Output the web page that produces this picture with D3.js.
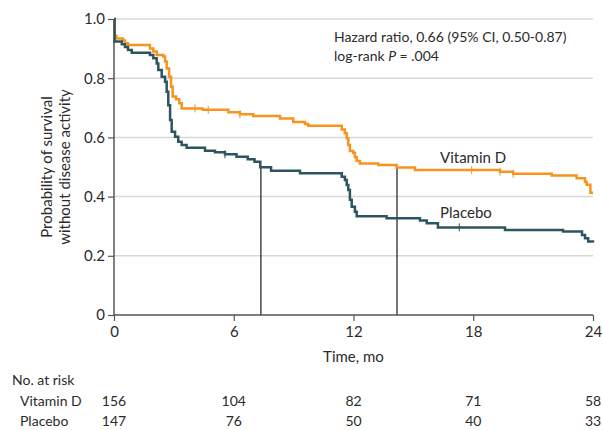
<!DOCTYPE html>
<html><head><meta charset="utf-8">
<script src="https://cdn.jsdelivr.net/npm/d3@7"></script>
<style>
body{margin:0;background:#fff;}
svg text{font-family:Lato,"Open Sans",sans-serif;fill:#2b2b2b;}
</style></head>
<body><svg id="c" width="603" height="430"></svg>
<script>
const xTicks = [0, 6, 12, 18, 24];
const yTicks = [0, 0.2, 0.4, 0.6, 0.8, 1.0];
const yTickLabels = ["0", "0.2", "0.4", "0.6", "0.8", "1.0"];
const groups = ["Vitamin D", "Placebo"];
const vitDTimes = [0,0.03,0.12,0.45,0.55,0.7,1.8,1.97,2.14,2.47,2.56,2.64,2.76,2.86,2.94,3.11,3.27,3.39,4.44,5.73,6.31,6.98,8.32,8.98,9.57,9.73,11.41,11.57,11.66,11.74,11.82,11.99,12.07,12.16,12.32,13.24,14.16,15.08,19.34,20.0,21.93,23.18,23.6,23.68,23.87,24];
const vitDSurv  = [1.0,0.943,0.934,0.927,0.918,0.912,0.9,0.89,0.878,0.873,0.856,0.833,0.805,0.771,0.738,0.729,0.715,0.698,0.693,0.685,0.678,0.672,0.664,0.652,0.645,0.639,0.627,0.614,0.597,0.574,0.554,0.548,0.533,0.52,0.512,0.507,0.498,0.49,0.484,0.477,0.471,0.462,0.45,0.44,0.413,0.413];
const placeboTimes = [0,0.03,0.39,0.55,0.7,0.89,1.8,1.97,2.14,2.22,2.39,2.56,2.64,2.72,2.81,2.89,3.06,3.22,3.39,3.64,4.56,5.06,5.56,6.14,6.7,7.04,7.33,7.87,9.32,11.41,11.57,11.66,11.74,11.82,11.91,12.07,12.16,13.66,15.33,15.67,16.23,19.59,22.5,23.45,23.6,23.76,24];
const placeboSurv  = [1.0,0.924,0.915,0.905,0.895,0.886,0.878,0.867,0.85,0.828,0.805,0.788,0.754,0.709,0.659,0.619,0.602,0.585,0.574,0.565,0.555,0.55,0.543,0.535,0.526,0.518,0.499,0.487,0.479,0.467,0.456,0.439,0.422,0.389,0.366,0.349,0.334,0.327,0.319,0.31,0.296,0.287,0.282,0.27,0.259,0.248,0.245];
const vitDCensor = [4.06, 4.72, 6.31, 17.92, 19.34, 20.0];
const placeboCensor = [5.56, 17.3];
const medianTimes = [7.36, 14.18];
const riskVitD = [156, 104, 82, 71, 58];
const riskPlacebo = [147, 76, 50, 40, 33];
const colors = {"Vitamin D": "#f7941d", "Placebo": "#2d5560"};

const svg = d3.select("#c");
const x = d3.scaleLinear().domain([0, 24]).range([114, 593]);
const y = d3.scaleLinear().domain([0, 1]).range([315, 19]);

// gridlines
svg.append("g").selectAll("line").data(yTicks.filter(d => d > 0)).join("line")
  .attr("x1", x(0)).attr("x2", x(24)).attr("y1", d => y(d)).attr("y2", d => y(d))
  .attr("stroke", "#d8d8d8").attr("stroke-width", 1.5);

// median lines
svg.append("g").selectAll("line").data(medianTimes).join("line")
  .attr("x1", d => x(d)).attr("x2", d => x(d)).attr("y1", y(0)).attr("y2", y(0.5))
  .attr("stroke", "#1a1a1a").attr("stroke-width", 1.2);

// axes
const yAxis = d3.axisLeft(y).tickValues(yTicks).tickFormat((d, i) => yTickLabels[i]).tickSize(6).tickPadding(3);
const gy = svg.append("g").attr("transform", `translate(${x(0)},0)`).call(yAxis);
const xAxis = d3.axisBottom(x).tickValues(xTicks).tickSize(6).tickPadding(5);
const gx = svg.append("g").attr("transform", `translate(0,${y(0)})`).call(xAxis);
[gy, gx].forEach(g => {
  g.select(".domain").attr("stroke", "#555").attr("stroke-width", 1.5);
  g.selectAll(".tick line").attr("stroke", "#555").attr("stroke-width", 1.2);
  g.selectAll(".tick text").attr("font-size", 15).attr("fill", "#2b2b2b").style("font-family", "Lato, sans-serif");
});
gy.select(".domain").attr("d", `M0,${y(1)}V${y(0)}`);
gx.select(".domain").attr("d", `M${x(0)},0H${x(24)}`);

// curves
const line = d3.line().x(d => x(d[0])).y(d => y(d[1])).curve(d3.curveStepAfter);
const series = [
  {name: "Vitamin D", pts: vitDTimes.map((t, i) => [t, vitDSurv[i]]), cens: vitDCensor},
  {name: "Placebo", pts: placeboTimes.map((t, i) => [t, placeboSurv[i]]), cens: placeboCensor}
];
function survAt(pts, t) { let s = pts[0][1]; for (const p of pts) { if (p[0] <= t) s = p[1]; } return s; }
series.forEach(s => {
  svg.append("path").datum(s.pts).attr("d", line).attr("fill", "none")
    .attr("stroke", colors[s.name]).attr("stroke-width", 2.5);
  svg.append("g").selectAll("line").data(s.cens).join("line")
    .attr("x1", d => x(d)).attr("x2", d => x(d))
    .attr("y1", d => y(survAt(s.pts, d)) - 4).attr("y2", d => y(survAt(s.pts, d)) + 4)
    .attr("stroke", colors[s.name]).attr("stroke-width", 1);
});

// labels
svg.append("text").attr("x", 440).attr("y", 163).attr("font-size", 15).text("Vitamin D");
svg.append("text").attr("x", 440).attr("y", 218).attr("font-size", 15).text("Placebo");
svg.append("text").attr("x", 334).attr("y", 42).attr("font-size", 14).text("Hazard ratio, 0.66 (95% CI, 0.50-0.87)");
const lr = svg.append("text").attr("x", 334).attr("y", 61).attr("font-size", 14);
lr.append("tspan").text("log-rank ");
lr.append("tspan").attr("font-style", "italic").text("P");
lr.append("tspan").text(" = .004");

// y axis title
svg.append("text").attr("font-size", 15).attr("text-anchor", "middle")
  .attr("transform", `translate(52,${(y(0)+y(1))/2}) rotate(-90)`).text("Probability of survival");
svg.append("text").attr("font-size", 15).attr("text-anchor", "middle")
  .attr("transform", `translate(70,${(y(0)+y(1))/2}) rotate(-90)`).text("without disease activity");

// x title
svg.append("text").attr("x", x(12)).attr("y", 362).attr("font-size", 15).attr("text-anchor", "middle").text("Time, mo");

// risk table
svg.append("text").attr("x", 12).attr("y", 385).attr("font-size", 14).text("No. at risk");
svg.append("text").attr("x", 20).attr("y", 406).attr("font-size", 14).text(groups[0]);
svg.append("text").attr("x", 20).attr("y", 426).attr("font-size", 14).text(groups[1]);
svg.append("g").selectAll("text").data(riskVitD).join("text")
  .attr("x", (d, i) => x(xTicks[i])).attr("y", 406).attr("font-size", 14).attr("text-anchor", "middle").text(d => d);
svg.append("g").selectAll("text").data(riskPlacebo).join("text")
  .attr("x", (d, i) => x(xTicks[i])).attr("y", 426).attr("font-size", 14).attr("text-anchor", "middle").text(d => d);
</script></body></html>
